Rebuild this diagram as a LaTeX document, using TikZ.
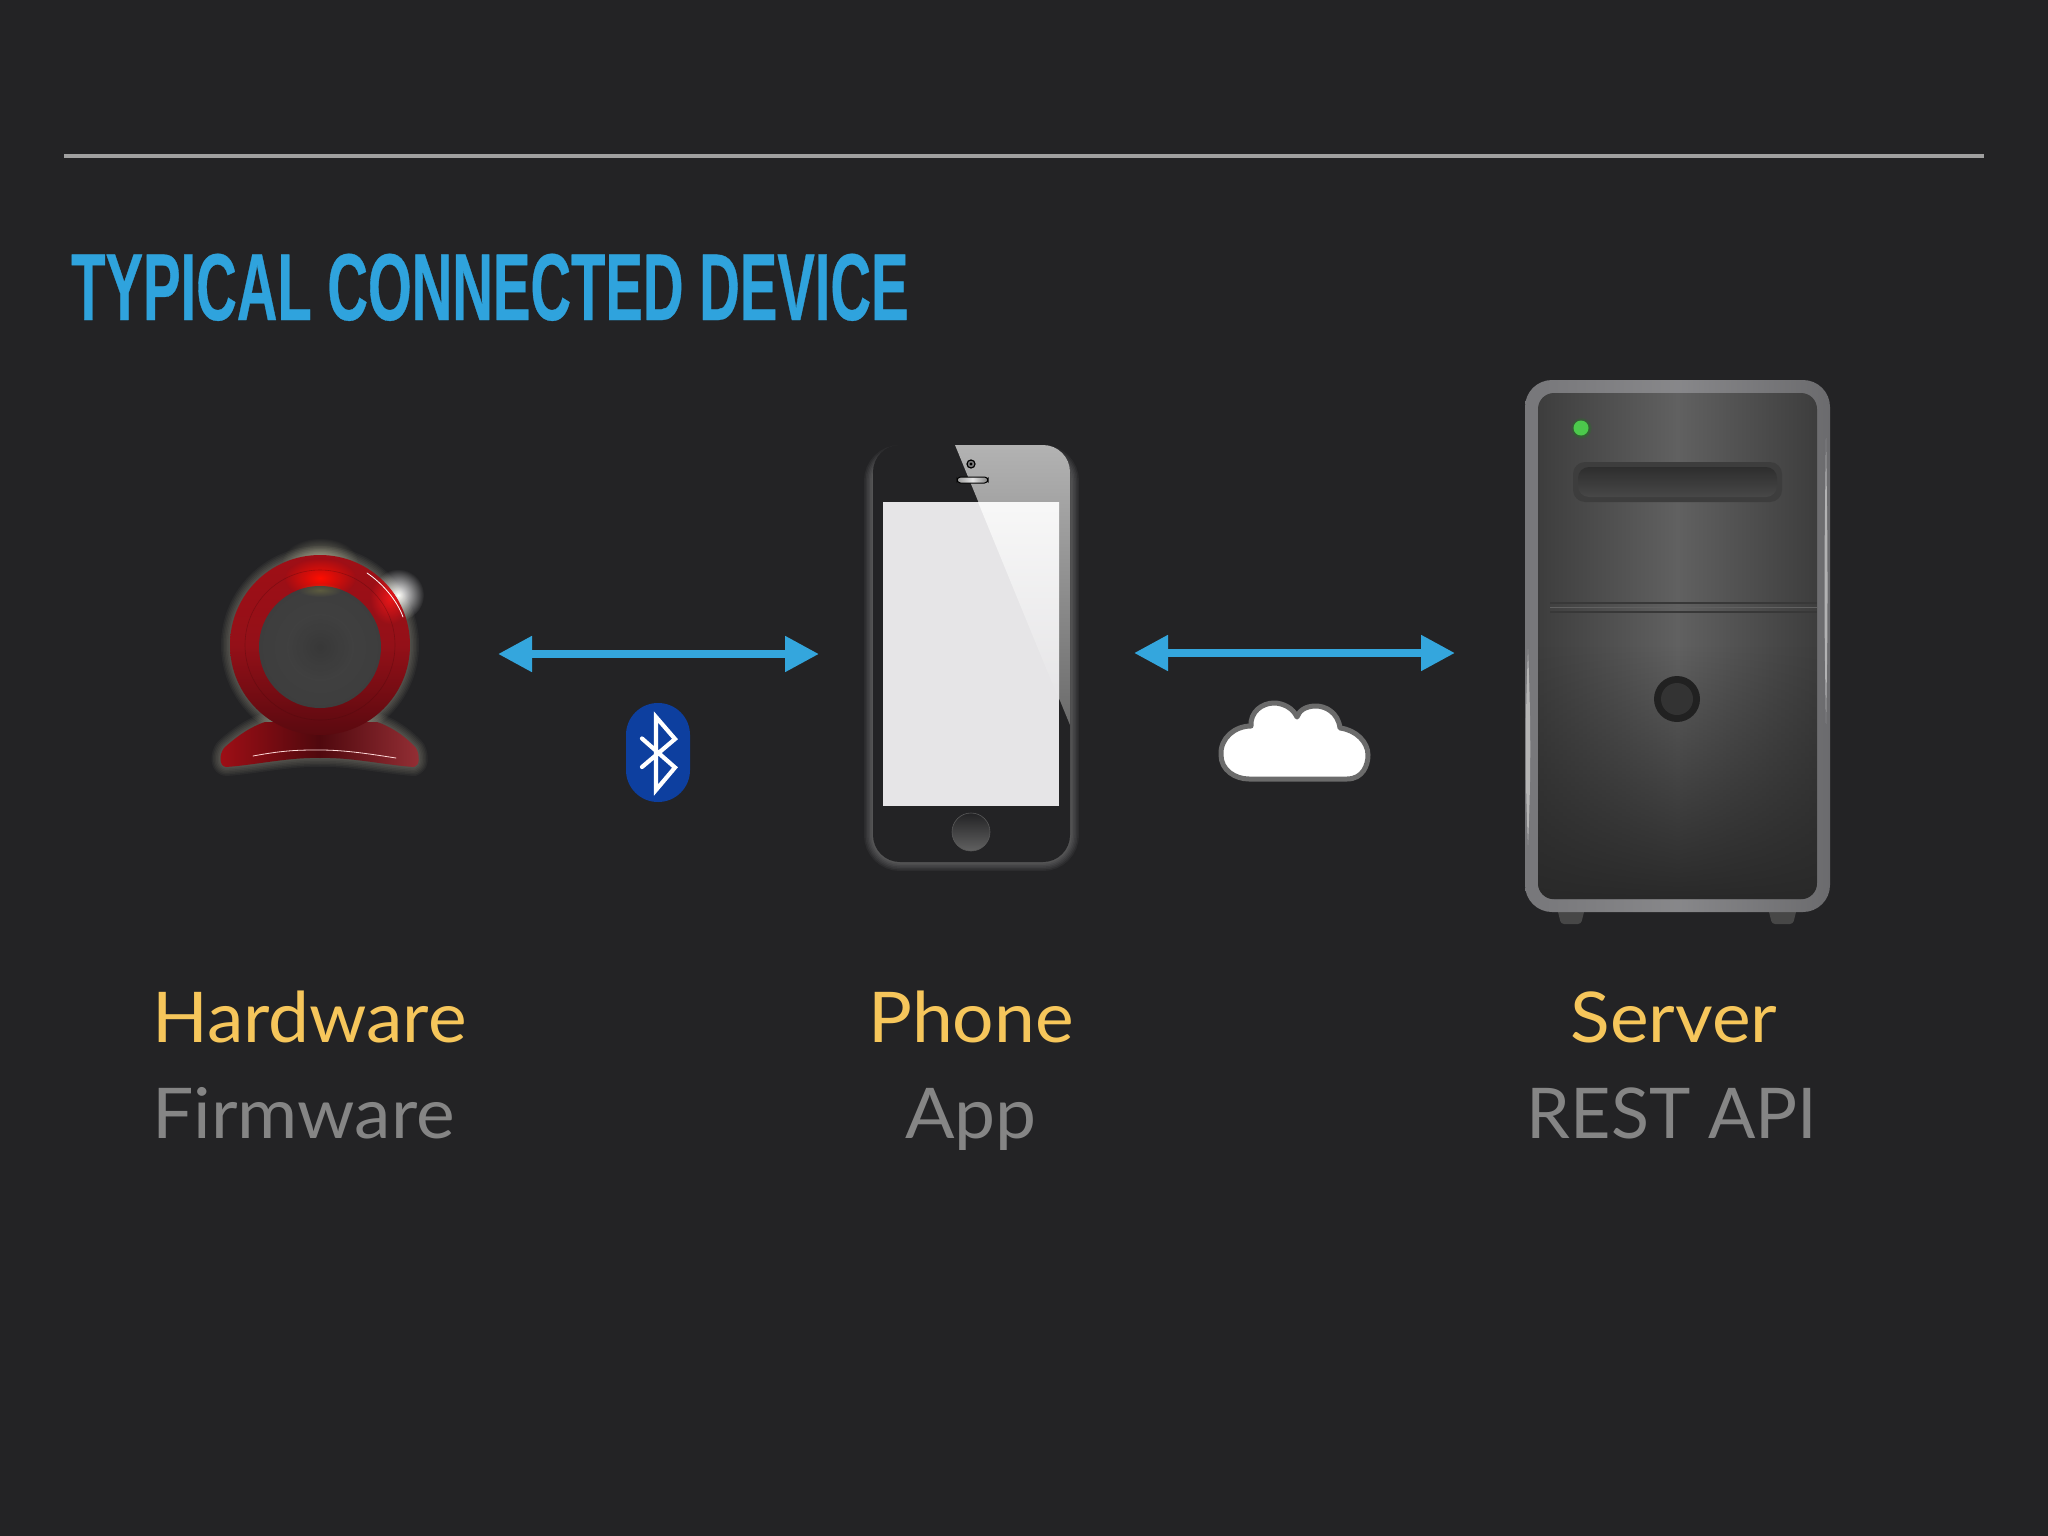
\documentclass[tikz,border=0pt]{standalone}
\usepackage{fontspec}
\setmainfont{Lato}
\newfontfamily\titlefont[FakeStretch=0.592,FakeBold=0.35]{Liberation Sans Bold}
\newfontfamily\widefont[FakeStretch=1.045]{Lato}
\usetikzlibrary{arrows.meta,fadings,shapes.geometric}
\definecolor{bgc}{HTML}{232325}
\definecolor{rulec}{HTML}{A0A0A0}
\definecolor{titlec}{HTML}{2FA3DD}
\definecolor{arrowc}{HTML}{34A6DD}
\definecolor{yellowc}{HTML}{F6C65B}
\definecolor{greyc}{HTML}{858585}
\definecolor{btc}{HTML}{0D3F9F}
\definecolor{ringc}{HTML}{941018}
\definecolor{ringd}{HTML}{6A0B12}
\definecolor{frame}{HTML}{77777A}
\definecolor{screenc}{HTML}{E6E5E7}
\tikzfading[name=softdot, inner color=transparent!0, outer color=transparent!100]
\tikzfading[name=downdark, top color=transparent!100, bottom color=transparent!0, middle color=transparent!100]
\tikzset{
  x=1pt,y=-1pt,
  headlabel/.style={font=\fontsize{70}{80}\selectfont\widefont,text=yellowc,inner sep=0pt},
  sublabel/.style={font=\fontsize{70}{80}\selectfont\widefont,text=greyc,inner sep=0pt},
  apilabel/.style={font=\fontsize{70}{80}\selectfont,text=greyc,inner sep=0pt},
  link/.style={arrowc,line width=8pt,{Triangle[length=34pt,width=34pt]}-{Triangle[length=34pt,width=34pt]}},
  softspot/.style={path fading=softdot,draw=none}
}
\newcommand{\campath}{(224,748) .. controls (236,737) and (250,727) .. (265,722) -- (377,722) .. controls (392,727) and (406,737) .. (416,748)
    .. controls (420,755) and (420,766) .. (414,767) .. controls (385,765) and (350,757) .. (320,758) .. controls (290,757) and (255,765) .. (226,767) .. controls (219,766) and (219,755) .. (224,748) -- cycle}
\begin{document}
\begin{tikzpicture}
\useasboundingbox (0,0) rectangle (2048,1536);
\fill[bgc] (0,0) rectangle (2048,1536);
% rule and title
\draw[rulec,line width=3.5pt] (64,156) -- (1984,156);
\node[anchor=base west,inner sep=0pt,text=titlec,font=\fontsize{95}{100}\selectfont\titlefont] (title) at (71,320) {TYPICAL CONNECTED DEVICE};

% ---------- webcam ----------
\fill[white!80!yellow,opacity=.5,softspot] (320,562) ellipse (38 and 24);
\fill[white,softspot] (398,595) circle (26);
\foreach \w in {18,15,12,9,6,3}{
  \draw[white!85!yellow,opacity=.04,line width=\w pt] (320,645) circle (90);
  \draw[white!85!yellow,opacity=.04,line width=\w pt,line join=round] \campath;
}
\path[left color=ringc!90!red,right color=ringc!85!white!90!black,middle color=ringd!75!black] \campath;
\shade[top color=ringc!90!red,bottom color=ringd!85!black,middle color=ringc] (320,645) circle (90);
\begin{scope}
  \clip (320,645) circle (90);
  \fill[red!90!orange,softspot] (320,578) ellipse (36 and 20);
  \fill[red!90!white,opacity=.8,softspot] (390,598) ellipse (20 and 26);
\end{scope}
\draw[ringd!70!black,line width=.6pt,opacity=.35] (320,645) circle (75);
\shade[inner color=black!74!white,outer color=black!76!white] (320,647) circle (61);
\fill[black!78!white,softspot] (320,647) circle (32);
\fill[yellow!60!black,opacity=.3,softspot] (320,590) ellipse (22 and 7);
\draw[white,line width=.8pt,line cap=round] (367,573) .. controls (382,583) and (397,600) .. (403,617);
\draw[white!85!red,line width=.8pt,line cap=round] (253,756) .. controls (285,750) and (300,750) .. (320,750) .. controls (345,750) and (370,754) .. (396,758);

% ---------- arrows ----------
\coordinate (btleft) at (498,654);
\coordinate (btright) at (819,654);
\coordinate (wifileft) at (1134,653);
\coordinate (wifiright) at (1455,653);
\draw[link] (btleft) -- (btright);
\draw[link] (wifileft) -- (wifiright);

% ---------- bluetooth ----------
\fill[btc,rounded corners=31.9pt] (626,703) rectangle (690,802);
\draw[white,line width=4.2pt,line join=miter,line cap=round]
  (642,738.5) -- (675,767.5) -- (656,790) -- (656,717) -- (675,739) -- (642,767);

% ---------- cloud ----------
\draw[fill=white,draw=black!58!white,line width=5pt,line join=round]
  (1249,779) -- (1347,779)
  .. controls (1363,779) and (1368,765) .. (1368,755)
  .. controls (1368,742) and (1356,730) .. (1340,728)
  .. controls (1338,712) and (1325,706) .. (1316,706)
  .. controls (1305,706) and (1299,711) .. (1297,717)
  .. controls (1293,708) and (1283,703) .. (1274,703)
  .. controls (1262,703) and (1250,712) .. (1251,726)
  .. controls (1235,726) and (1220,738) .. (1221,755)
  .. controls (1221,770) and (1235,779) .. (1249,779) -- cycle;

% ---------- phone ----------
\foreach \w in {18,15,12,9,6,3}{
  \draw[white,opacity=.045,line width=\w pt,rounded corners=27pt] (873,454) rectangle (1070,862);
}
\fill[bgc,rounded corners=27pt] (873,445) rectangle (1070,862);
\begin{scope}
  \clip[rounded corners=27pt] (873,445) rectangle (1070,862);
  \clip (955,445) -- (1070,445) -- (1070,725) -- cycle;
  \shade[top color=black!30!white,bottom color=black!58!white] (873,445) rectangle (1070,725);
\end{scope}
\fill[screenc] (883,502) rectangle (1059,806);
\begin{scope}
  \clip (883,502) rectangle (1059,806);
  \shade[top color=black!3!white,bottom color=screenc] (978,502) -- (1059,502) -- (1059,700) -- cycle;
\end{scope}
\draw[black,line width=1.2pt,fill=bgc!60!white] (971,464) circle (4);
\fill[black] (971,464) circle (1.6);
\shade[left color=black!40!white,right color=black!50!white,middle color=white!90!black,draw=black,line width=1pt,rounded corners=3.5pt] (957,477) rectangle (988,483);
\shade[top color=bgc,middle color=bgc,bottom color=black!62!white,draw=black!65!white,line width=.6pt] (971,832) circle (19);

% ---------- server ----------
\fill[black!72!white,rounded corners=3pt] (1557,908) -- (1585,908) -- (1581,924) -- (1561,924) -- cycle;
\fill[black!72!white,rounded corners=3pt] (1768,908) -- (1797,908) -- (1793,924) -- (1772,924) -- cycle;
\shade[left color=frame,right color=frame!90!black,middle color=frame!88!white,rounded corners=27pt] (1525,380) rectangle (1830,912);
\shade[left color=black!76!white,right color=black!76!white,middle color=black!62!white,rounded corners=16pt] (1538,393) rectangle (1817,899);
\fill[black!84!white,path fading=downdark,rounded corners=16pt] (1538,393) rectangle (1817,899);
% slot
\fill[black!76!white,rounded corners=12pt] (1573,462) rectangle (1782,502);
\shade[top color=black!82!white,bottom color=black!72!white,rounded corners=11pt] (1578,467) rectangle (1777,497);
% seam
\draw[black!78!white,line width=2pt] (1550,603) -- (1817,603);
\draw[black!78!white,line width=2pt] (1550,612) -- (1817,612);
\draw[black!62!white,line width=1.4pt] (1550,607.5) -- (1817,607.5);
% button
\fill[black!87!white] (1677,699) circle (23);
\fill[black!80!white] (1677,699) circle (16);
% LED
\fill[green!60!black,softspot] (1581,428) circle (11);
\fill[green!70!black!70!white] (1581,428) circle (7.5);
% highlights
\fill[white!75!black,opacity=.85] (1826,438) .. controls (1828,560) and (1828,620) .. (1826,724) .. controls (1824,620) and (1824,560) .. (1826,438) -- cycle;
\fill[white!75!black,opacity=.85] (1528,649) .. controls (1531,720) and (1531,780) .. (1528,845) .. controls (1525,780) and (1525,720) .. (1528,649) -- cycle;

% ---------- labels ----------
\node[headlabel,anchor=base west] (hw) at (152,1042) {Hardware};
\node[sublabel,anchor=base west] (fw) at (152,1138) {Firmware};
\node[headlabel,anchor=base] (ph) at (971,1042) {Phone};
\node[sublabel,anchor=base] (app) at (971,1138) {App};
\node[headlabel,anchor=base] (sv) at (1674,1042) {Server};
\node[apilabel,anchor=base] (api) at (1672,1138) {REST API};
\end{tikzpicture}
\end{document}
